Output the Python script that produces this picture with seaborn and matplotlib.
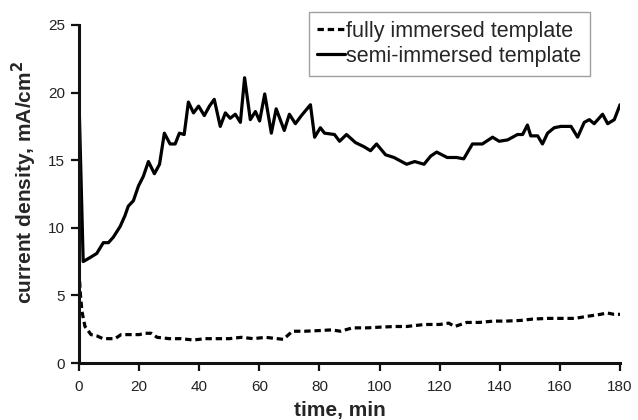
import matplotlib
matplotlib.use("Agg")
import matplotlib.pyplot as plt
import pandas as pd
import seaborn as sns

# semi-immersed template (solid)
semi_t = [0, 1.4, 3.7, 5.9, 8.1, 9.8, 11.4, 13.7, 15.3, 16.4, 18.1, 19.8, 21.4,
          23.1, 25.1, 26.8, 28.4, 30.3, 32, 33.4, 35, 36.4, 38.1, 39.8, 41.7,
          43.4, 45, 47, 48.7, 50.3, 52, 53.7, 55.1, 57, 58.7, 60.1, 61.8, 64,
          65.6, 68.3, 70, 72, 74, 77, 78.4, 80.3, 81.7, 85, 86.7, 89, 92, 94.8,
          97, 99, 102, 104.8, 109, 111.7, 114.8, 117, 119, 122.5, 125.6, 128,
          130.9, 134.2, 137.6, 139.8, 142.6, 145.9, 147.6, 149.2, 150.3, 152.6,
          154.2, 155.9, 158.1, 160.3, 163.7, 165.9, 168.1, 169.8, 171.4, 174.2,
          175.9, 178.1, 180]
semi_j = [19.5, 7.5, 7.8, 8.1, 8.9, 8.9, 9.3, 10.1, 10.9, 11.6, 12.0, 13.1, 13.8,
          14.9, 14.0, 14.7, 17.0, 16.2, 16.2, 17.0, 16.9, 19.3, 18.5, 19.0, 18.3,
          19.0, 19.5, 17.5, 18.5, 18.1, 18.4, 17.8, 21.1, 18.0, 18.6, 17.9, 19.9, 17.0,
          18.8, 17.2, 18.4, 17.7, 18.3, 19.1, 16.7, 17.4, 17.0, 16.9, 16.4, 16.9, 16.3, 16.0,
          15.7, 16.2, 15.4, 15.2, 14.7, 14.9, 14.7, 15.3, 15.6, 15.2, 15.2, 15.1,
          16.2, 16.2, 16.7, 16.4, 16.5, 16.9, 16.9, 17.6, 16.8, 16.8,
          16.2, 17.0, 17.4, 17.5, 17.5, 16.7, 17.8, 18.0, 17.7, 18.4,
          17.7, 18.0, 19.1]

# fully immersed template (dashed)
full_t = [0, 0.5, 1, 2, 4, 6, 8, 10, 12, 14, 16, 18, 20, 22, 24, 26, 30, 34, 38,
          42, 46, 50, 54, 58, 62, 66, 68, 71, 75, 80, 84, 87, 91, 96, 100, 105,
          109, 115, 120, 123, 125, 129, 133, 138, 142, 147, 151, 156, 160, 165,
          169, 173.5, 175.7, 178, 180]
full_j = [6.8, 5.0, 3.8, 2.7, 2.1, 2.0, 1.8, 1.8, 1.8, 2.1, 2.1, 2.1, 2.1, 2.2,
          2.2, 1.9, 1.8, 1.8, 1.7, 1.8, 1.8, 1.8, 1.9, 1.8, 1.9, 1.8, 1.75, 2.35,
          2.35, 2.4, 2.45, 2.35, 2.6, 2.6, 2.65, 2.7, 2.7, 2.85, 2.85, 2.95, 2.7,
          3.0, 3.0, 3.1, 3.1, 3.15, 3.25, 3.3, 3.3, 3.3, 3.45, 3.6, 3.7, 3.6, 3.6]

sns.set_style("ticks")
plt.rcParams["font.family"] = ["Liberation Sans", "DejaVu Sans"]

fig = plt.figure(figsize=(6.38, 4.2), dpi=100)
ax = fig.add_axes([0.1238, 0.1357, 0.848, 0.8048])

full = pd.DataFrame({"t": full_t, "j": full_j})
semi = pd.DataFrame({"t": semi_t, "j": semi_j})
sns.lineplot(data=full, x="t", y="j", ax=ax, color="black", lw=2.3,
             linestyle=(0, (2.0, 1.2)), label="fully immersed template")
sns.lineplot(data=semi, x="t", y="j", ax=ax, color="black", lw=2.3,
             label="semi-immersed template")

ax.set_xlim(0, 180)
ax.set_ylim(0, 25)
ax.set_xticks(range(0, 181, 20))
ax.set_yticks(range(0, 26, 5))
ax.tick_params(labelsize=11, width=1.6, length=6, direction="out",
               colors="#111111", labelcolor="#222222")
ax.tick_params(axis="x", pad=6)
ax.tick_params(axis="y", pad=4)
for s in ("left", "bottom"):
    ax.spines[s].set_linewidth(2.2)
    ax.spines[s].set_color("#111111")
sns.despine(ax=ax)
ax.set_xlabel("time, min", fontsize=15, fontweight="bold")
ax.set_ylabel("current density, mA/cm$^\\mathbf{2}$", fontsize=15,
              fontweight="bold")
ax.xaxis.set_label_coords(0.4825, -0.112)
ax.yaxis.set_label_coords(-0.073, 0.535)

leg = ax.legend(loc="upper right", bbox_to_anchor=(0.9445, 1.0385),
                borderaxespad=0, fontsize=15.5, frameon=True, fancybox=False,
                edgecolor="#888888", handlelength=1.3, handletextpad=0.05,
                borderpad=0.4, labelspacing=0.2)
leg.get_frame().set_linewidth(1)

fig.savefig("out.png", dpi=100)
